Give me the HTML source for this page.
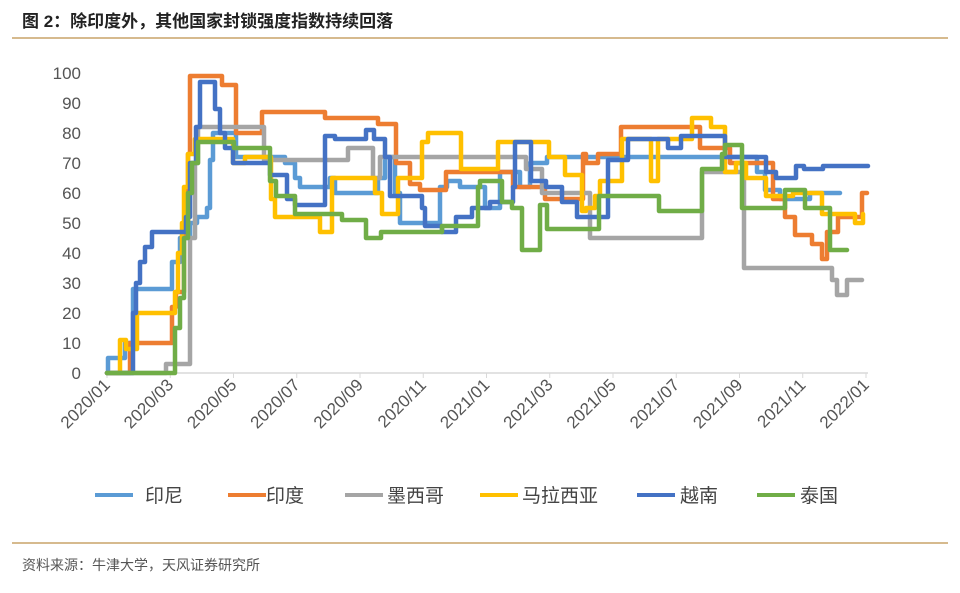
<!DOCTYPE html>
<html><head><meta charset="utf-8"><style>
body{margin:0;background:#fff;width:960px;height:593px;overflow:hidden;font-family:"Liberation Sans","Noto Sans CJK SC",sans-serif;}
</style></head><body>
<svg id="s" width="960" height="593" xmlns="http://www.w3.org/2000/svg" style="position:absolute;left:0;top:0">
<text x="22" y="27" font-size="17" font-weight="bold" fill="#222" font-family="Liberation Sans,Noto Sans CJK SC,sans-serif">图 2：除印度外，其他国家封锁强度指数持续回落</text>
<line x1="12" y1="38" x2="948" y2="38" stroke="#c8a468" stroke-width="1.5"/>
<line x1="12" y1="543" x2="948" y2="543" stroke="#c8a468" stroke-width="1.5"/>
<text x="22" y="570" font-size="14" fill="#555" font-family="Liberation Sans,Noto Sans CJK SC,sans-serif">资料来源：牛津大学，天风证券研究所</text>
<g id="g"></g>
</svg>
<script>
var g=document.getElementById('g'),h='';
function Y(v){return 373-3*v;}
for(var v=0;v<=100;v+=10){h+='<text x="81" y="'+(Y(v)+6)+'" font-size="17" fill="#555" text-anchor="end">'+v+'</text>';}
h+='<line x1="107" y1="373" x2="868" y2="373" stroke="#d9d9d9" stroke-width="1.5"/>';
var lab=['2020/01','2020/03','2020/05','2020/07','2020/09','2020/11','2021/01','2021/03','2021/05','2021/07','2021/09','2021/11','2022/01'];
for(var i=0;i<13;i++){var x=107+i*63.25;h+='<line x1="'+x+'" y1="373" x2="'+x+'" y2="378" stroke="#d9d9d9"/>';
h+='<text transform="translate('+(x+4)+',386) rotate(-45)" font-size="17" fill="#555" text-anchor="end">'+lab[i]+'</text>';}
function step(pts){var d='M'+pts[0][0]+','+Y(pts[0][1]);for(var i=1;i<pts.length;i++){d+=' H'+pts[i][0]+' V'+Y(pts[i][1]);}return d;}
var S={
lb:['#5B9BD5',[[107,0],[108,5],[120,5],[125,10],[133,28],[171,28],[172,37],[178,37],[180,45],[190,50],[197,52],[207,55],[210,71],[213,80],[233,80],[236,72],[280,72],[285,70],[295,65],[300,62],[325,62],[330,65],[335,60],[375,60],[378,65],[385,72],[395,60],[400,50],[420,50],[440,62],[447,64],[460,62],[480,62],[485,55],[500,67],[520,62],[530,70],[547,72],[747,72],[757,67],[765,61],[780,58],[810,60],[840,60]]],
in:['#ED7D31',[[107,0],[130,10],[170,10],[172,22],[176,27],[184,50],[188,73],[190,99],[222,99],[222,96],[236,96],[236,80],[262,80],[262,87],[325,87],[325,85],[378,85],[378,83],[392,83],[396,70],[406,70],[410,63],[420,61],[445,61],[446,67],[510,67],[513,62],[540,62],[545,58],[580,58],[583,73],[586,70],[597,70],[598,73],[620,73],[621,82],[697,82],[700,75],[727,75],[730,70],[770,70],[773,58],[783,58],[785,52],[793,52],[795,46],[810,46],[812,43],[820,43],[822,38],[825,38],[827,47],[834,47],[838,52],[860,52],[862,60],[867,60]]],
gr:['#A5A5A5',[[107,0],[165,0],[166,3],[186,3],[190,45],[195,70],[198,82],[263,82],[264,71],[347,71],[348,75],[372,75],[373,65],[378,65],[380,72],[523,72],[526,68],[540,68],[542,60],[548,60],[590,45],[700,45],[702,67],[742,67],[744,35],[830,35],[832,31],[835,31],[837,26],[845,26],[847,31],[862,31]]],
ye:['#FFC000',[[107,0],[120,11],[126,8],[131,8],[137,20],[172,20],[175,27],[178,40],[182,50],[184,62],[188,73],[195,78],[225,78],[233,70],[240,70],[245,72],[268,72],[271,58],[275,52],[318,52],[320,47],[330,47],[332,65],[373,65],[375,60],[382,53],[395,53],[398,65],[420,65],[422,77],[428,80],[460,80],[461,68],[497,68],[498,77],[547,77],[549,72],[563,72],[565,66],[580,66],[582,54],[586,55],[595,59],[600,64],[620,64],[622,78],[650,78],[651,64],[657,64],[658,78],[690,78],[692,85],[710,85],[711,82],[723,82],[725,67],[735,67],[736,70],[745,70],[746,65],[765,65],[766,59],[790,59],[793,60],[820,60],[822,53],[852,53],[855,50],[862,50],[863,53]]],
db:['#4472C4',[[107,0],[130,0],[133,20],[136,30],[140,37],[145,42],[152,47],[182,47],[186,52],[190,70],[196,82],[200,97],[213,97],[215,88],[220,80],[225,75],[233,70],[265,70],[270,66],[283,66],[287,58],[295,56],[320,56],[325,79],[335,78],[365,78],[366,81],[372,81],[374,78],[380,78],[385,72],[390,59],[410,59],[422,55],[425,49],[440,49],[442,47],[455,47],[456,52],[470,52],[472,55],[486,55],[490,57],[510,57],[513,62],[515,77],[530,77],[531,64],[545,64],[546,62],[560,62],[562,57],[575,57],[577,52],[593,52],[607,52],[608,71],[627,71],[628,78],[667,78],[668,75],[680,75],[681,79],[723,79],[725,72],[765,72],[766,67],[775,67],[776,65],[793,65],[796,69],[803,69],[804,68],[822,68],[823,69],[868,69]]],
gn:['#70AD47',[[107,0],[172,0],[175,15],[180,25],[184,45],[188,60],[192,70],[198,77],[233,77],[234,75],[265,75],[270,64],[276,59],[290,59],[295,53],[340,53],[342,51],[365,51],[366,45],[380,45],[381,47],[440,47],[442,49],[475,49],[478,62],[480,64],[500,64],[502,57],[510,57],[512,55],[520,55],[522,41],[538,41],[540,56],[545,56],[547,48],[597,48],[599,59],[657,59],[659,54],[698,54],[702,68],[722,73],[725,76],[738,76],[742,55],[783,55],[785,61],[803,61],[805,55],[828,55],[830,41],[847,41]]]
};
for(var k in S){h+='<path d="'+step(S[k][1])+'" fill="none" stroke="'+S[k][0]+'" stroke-width="4.5" stroke-linejoin="round" stroke-linecap="round"/>';}
var L=[['#5B9BD5','印尼',95,145],['#ED7D31','印度',228,266],['#A5A5A5','墨西哥',345,387],['#FFC000','马拉西亚',480,522],['#4472C4','越南',637,680],['#70AD47','泰国',757,800]];
L.forEach(function(l){h+='<line x1="'+l[2]+'" y1="495" x2="'+(l[2]+38)+'" y2="495" stroke="'+l[0]+'" stroke-width="4"/>';
h+='<text x="'+l[3]+'" y="502" font-size="19" fill="#444">'+l[1]+'</text>';});
g.innerHTML=h;
</script>
</body></html>
